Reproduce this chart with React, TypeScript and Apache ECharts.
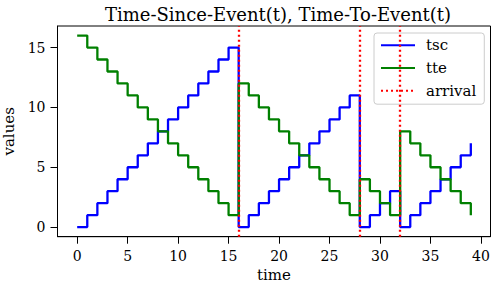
import React, { useEffect, useRef } from "react";
import * as echarts from "echarts";

const time = [0,1,2,3,4,5,6,7,8,9,10,11,12,13,14,15,16,17,18,19,20,21,22,23,24,25,26,27,28,29,30,31,32,33,34,35,36,37,38,39];
const tsc = [0,1,2,3,4,5,6,7,8,9,10,11,12,13,14,15,0,1,2,3,4,5,6,7,8,9,10,11,0,1,2,3,0,1,2,3,4,5,6,7];
const tte = [16,15,14,13,12,11,10,9,8,7,6,5,4,3,2,1,12,11,10,9,8,7,6,5,4,3,2,1,4,3,2,1,8,7,6,5,4,3,2,1];
const arrivals = [16, 28, 32];
const xTicks = [0, 5, 10, 15, 20, 25, 30, 35, 40];
const yTicks = [0, 5, 10, 15];
const legendNames = ["tsc", "tte", "arrival"];

const FONT = "DejaVu Serif";

export default function App() {
  const ref = useRef<HTMLDivElement>(null);
  useEffect(() => {
    document.body.style.margin = "0";
    const chart = echarts.init(ref.current!, null, { renderer: "svg" });
    const legendText = { fontFamily: FONT, fontSize: 15, color: "#000", padding: [0, 0, 0, 6] };
    chart.setOption({
      animation: false,
      textStyle: { fontFamily: FONT, color: "#000" },
      title: {
        text: "Time-Since-Event(t), Time-To-Event(t)",
        left: 273,
        textAlign: "center",
        top: 0,
        textStyle: { fontFamily: FONT, fontSize: 18, fontWeight: "normal", color: "#000" },
      },
      grid: {
        left: 57.5,
        right: 1.5,
        top: 26,
        bottom: 49.3,
        show: true,
        borderColor: "#000",
        borderWidth: 1,
        containLabel: false,
        outerBoundsMode: "none",
      },
      legend: {
        orient: "vertical",
        left: 374,
        top: 33,
        padding: [4.8, 8, 6, 6],
        itemWidth: 34,
        itemHeight: 15,
        itemGap: 7.7,
        backgroundColor: "rgba(255,255,255,0.8)",
        borderColor: "#cccccc",
        borderWidth: 1,
        borderRadius: 3,
        itemStyle: { color: "transparent", borderWidth: 0, borderColor: "transparent" },
        textStyle: legendText,
        data: legendNames.map((n) => ({ name: n, textStyle: legendText })),
      },
      xAxis: {
        type: "value",
        min: -1.95,
        max: 40.95,
        name: "time",
        nameLocation: "middle",
        nameGap: 31,
        nameTextStyle: { fontFamily: FONT, fontSize: 15, color: "#000" },
        splitLine: { show: false },
        axisLine: { onZero: false, lineStyle: { color: "#000", width: 1 } },
        axisTick: { customValues: xTicks, length: 7, lineStyle: { color: "#000" } },
        axisLabel: { customValues: xTicks, margin: 12, fontFamily: FONT, fontSize: 14, color: "#000" },
      },
      yAxis: {
        type: "value",
        min: -0.8,
        max: 16.8,
        name: "values",
        nameLocation: "middle",
        nameGap: 40,
        nameTextStyle: { fontFamily: FONT, fontSize: 15, color: "#000" },
        splitLine: { show: false },
        axisLine: { show: true, onZero: false, lineStyle: { color: "#000", width: 1 } },
        axisTick: { show: true, customValues: yTicks, length: 7, lineStyle: { color: "#000" } },
        axisLabel: { customValues: yTicks, margin: 12, fontFamily: FONT, fontSize: 14, color: "#000" },
      },
      series: [
        {
          name: "tsc",
          type: "line",
          step: "end",
          symbol: "none",
          data: time.map((t, i) => [t, tsc[i]]),
          lineStyle: { color: "#0000ff", width: 2.3 },
          itemStyle: { color: "#0000ff" },
        },
        {
          name: "tte",
          type: "line",
          step: "end",
          symbol: "none",
          data: time.map((t, i) => [t, tte[i]]),
          lineStyle: { color: "#008000", width: 2.3 },
          itemStyle: { color: "#008000" },
        },
        {
          name: "arrival",
          type: "line",
          symbol: "none",
          data: [],
          lineStyle: { color: "#ff0000", width: 2.3, type: [2, 3] },
          itemStyle: { color: "#ff0000" },
          markLine: {
            silent: true,
            symbol: "none",
            label: { show: false },
            lineStyle: { color: "#ff0000", width: 2.3, type: [2, 3] },
            data: arrivals.map((a) => ({ xAxis: a })),
          },
        },
      ],
    });
    return () => chart.dispose();
  }, []);
  return <div ref={ref} style={{ width: 492, height: 286 }} />;
}
